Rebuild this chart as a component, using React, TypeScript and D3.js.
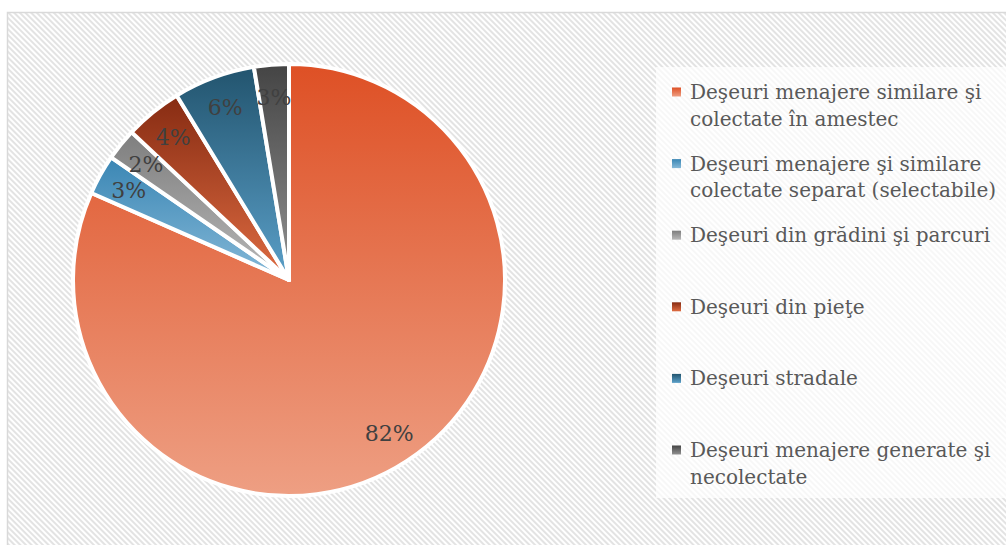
import React, { useEffect, useRef } from "react";
import * as d3 from "d3";

// share of each waste stream (percent)
const categories = [
  "Deşeuri menajere similare şi\ncolectate în amestec",
  "Deşeuri menajere şi similare\ncolectate separat (selectabile)",
  "Deşeuri din grădini şi parcuri",
  "Deşeuri din pieţe",
  "Deşeuri stradale",
  "Deşeuri menajere generate şi\nnecolectate",
];
const values = [81.6, 3.0, 2.4, 4.3, 6.1, 2.6];
// gradient top / bottom per slice
const topColors = ["#DE5025", "#3A86B4", "#7E7E7E", "#862B12", "#22546E", "#444444"];
const bottomColors = ["#EE9F83", "#86B9D8", "#B8B8B8", "#DF6C42", "#5BA0C9", "#929292"];

const W = 1006;
const H = 545;
const FONT = "'DejaVu Serif', serif";

const App = () => {
  const ref = useRef<SVGSVGElement | null>(null);

  useEffect(() => {
    if (!ref.current) return;
    const svg = d3.select(ref.current);
    svg.selectAll("*").remove();

    const defs = svg.append("defs");

    // diagonal striped background
    const pat = defs
      .append("pattern")
      .attr("id", "stripes")
      .attr("patternUnits", "userSpaceOnUse")
      .attr("width", 4)
      .attr("height", 4)
      .attr("patternTransform", "rotate(-45)");
    pat.append("rect").attr("width", 4).attr("height", 4).attr("fill", "#ffffff");
    pat.append("rect").attr("width", 2).attr("height", 4).attr("fill", "#E3E3E3");

    categories.forEach((_, i) => {
      const g = defs
        .append("linearGradient")
        .attr("id", `grad${i}`)
        .attr("x1", 0)
        .attr("y1", 0)
        .attr("x2", 0)
        .attr("y2", 1);
      g.append("stop").attr("offset", "0%").attr("stop-color", topColors[i]);
      g.append("stop").attr("offset", "100%").attr("stop-color", bottomColors[i]);
    });

    svg
      .append("rect")
      .attr("x", 7.5)
      .attr("y", 12.5)
      .attr("width", W + 10)
      .attr("height", H + 10)
      .attr("fill", "url(#stripes)")
      .attr("stroke", "#D9D9D9")
      .attr("stroke-width", 1.5);

    // pie
    const cx = 289;
    const cy = 280;
    const radius = 216;
    const pie = d3.pie<number>().sort(null).value((d) => d);
    const arcs = pie(values);
    const arc = d3.arc<d3.PieArcDatum<number>>().innerRadius(0).outerRadius(radius);
    const labelArc = d3
      .arc<d3.PieArcDatum<number>>()
      .innerRadius(radius * 0.85)
      .outerRadius(radius * 0.85);
    const total = d3.sum(values);

    const pg = svg.append("g").attr("transform", `translate(${cx},${cy})`);
    pg.selectAll("path")
      .data(arcs)
      .join("path")
      .attr("d", arc)
      .attr("fill", (_, i) => `url(#grad${i})`)
      .attr("stroke", "#ffffff")
      .attr("stroke-width", 4)
      .attr("stroke-linejoin", "round");

    pg.selectAll("text")
      .data(arcs)
      .join("text")
      .attr("transform", (d) => {
        const c = labelArc.centroid(d);
        return `translate(${c[0]},${c[1]})`;
      })
      .attr("text-anchor", "middle")
      .attr("dominant-baseline", "central")
      .attr("fill", "#404040")
      .style("font-family", FONT)
      .style("font-size", "22px")
      .text((d) => `${Math.round((d.data / total) * 100)}%`);

    // legend
    svg
      .append("rect")
      .attr("x", 656)
      .attr("y", 67)
      .attr("width", W - 656)
      .attr("height", 431)
      .attr("fill", "#ffffff")
      .attr("fill-opacity", 0.72);

    const step = 71.6;
    const lineH = 26.5;
    const lg = svg.append("g");
    categories.forEach((name, i) => {
      const y = 92 + i * step;
      lg.append("rect")
        .attr("x", 672)
        .attr("y", y - 4.5)
        .attr("width", 9)
        .attr("height", 9)
        .attr("fill", `url(#grad${i})`);
      const t = lg
        .append("text")
        .attr("x", 690)
        .attr("y", y)
        .attr("fill", "#595959")
        .style("font-family", FONT)
        .style("font-size", "20px");
      name.split("\n").forEach((line, j) => {
        t.append("tspan")
          .attr("x", 690)
          .attr("y", y + j * lineH)
          .attr("dominant-baseline", "central")
          .text(line);
      });
    });
  }, []);

  return (
    <div style={{ position: "absolute", left: 0, top: 0 }}>
      <svg ref={ref} width={W} height={H} style={{ display: "block" }}></svg>
    </div>
  );
};

export default App;
